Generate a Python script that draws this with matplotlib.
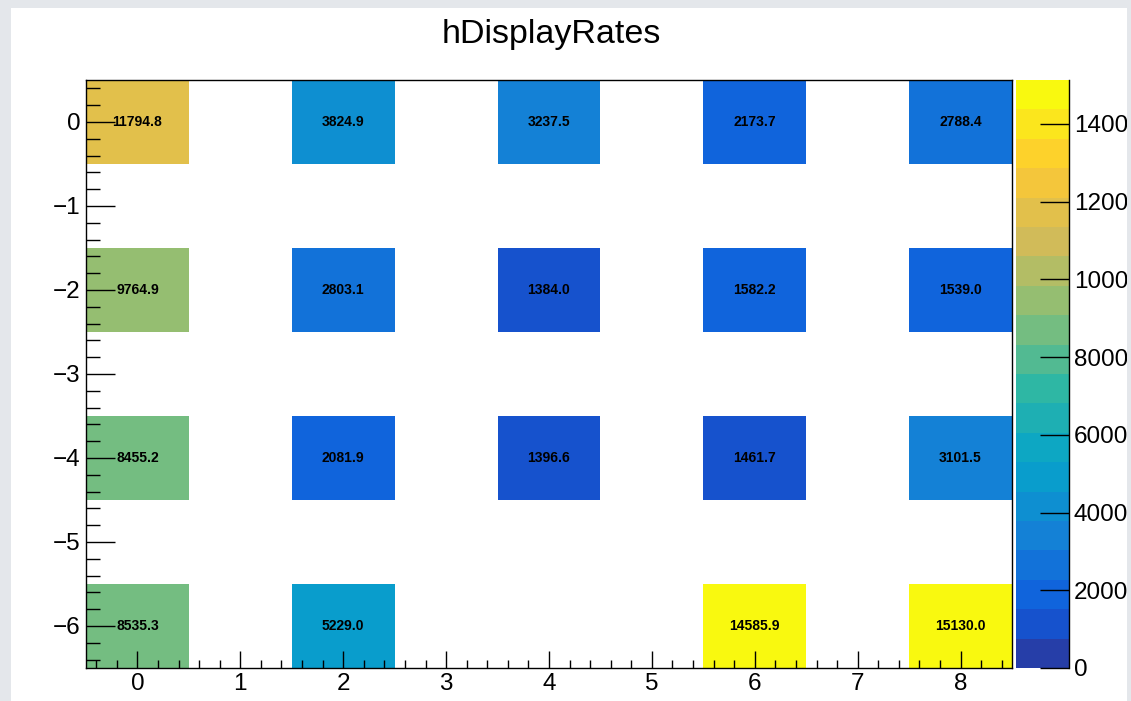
import numpy as np
import matplotlib
matplotlib.use("Agg")
import matplotlib.pyplot as plt
from matplotlib.colors import ListedColormap, BoundaryNorm
from matplotlib.patches import Rectangle
from matplotlib.ticker import MultipleLocator

plt.rcParams['font.family'] = ['Liberation Sans', 'DejaVu Sans']

# Histogram content: filled bin centres and the rate in each bin
title = "hDisplayRates"
x_filled = [0, 2, 4, 6, 8]
y_filled = [0, -2, -4, -6]
rates_row_0 = [11794.8, 3824.9, 3237.5, 2173.7, 2788.4]
rates_row_m2 = [9764.9, 2803.1, 1384.0, 1582.2, 1539.0]
rates_row_m4 = [8455.2, 2081.9, 1396.6, 1461.7, 3101.5]
rates_row_m6 = [8535.3, 5229.0, None, 14585.9, 15130.0]
rows = [rates_row_0, rates_row_m2, rates_row_m4, rates_row_m6]
palette_ticks = [0, 2000, 4000, 6000, 8000, 10000, 12000, 14000]

# Binning: unit-width bins centred on integers
x_lo, x_hi = -0.5, 8.5
y_lo, y_hi = -6.5, 0.5
x_edges = np.arange(x_lo, x_hi + 0.5, 1.0)
y_edges = np.arange(y_lo, y_hi + 0.5, 1.0)
nx, ny = len(x_edges) - 1, len(y_edges) - 1

grid = np.full((ny, nx), np.nan)
for yv, row in zip(y_filled, rows):
    for xv, val in zip(x_filled, row):
        if val is not None:
            grid[int(round(yv - y_lo - 0.5)), int(round(xv - x_lo - 0.5))] = val

# Bird palette with 20 contour levels from 0 to the maximum
stops = [0.0000, 0.1250, 0.2500, 0.3750, 0.5000, 0.6250, 0.7500, 0.8750, 1.0000]
red = [0.2082, 0.0592, 0.0780, 0.0232, 0.1802, 0.5301, 0.8186, 0.9956, 0.9764]
green = [0.1664, 0.3599, 0.5041, 0.6419, 0.7178, 0.7492, 0.7328, 0.7862, 0.9832]
blue = [0.5293, 0.8684, 0.8385, 0.7914, 0.6425, 0.4662, 0.3499, 0.1968, 0.0539]
n_grad = 255
palette = []
for g in range(1, len(stops)):
    nseg = int(np.floor(n_grad * stops[g]) - np.floor(n_grad * stops[g - 1]))
    for c in range(nseg):
        f = c / nseg
        palette.append((red[g - 1] + f * (red[g] - red[g - 1]),
                        green[g - 1] + f * (green[g] - green[g - 1]),
                        blue[g - 1] + f * (blue[g] - blue[g - 1])))
n_levels = 20
band_colors = [palette[min(int((i + 0.99) * len(palette) / n_levels), len(palette) - 1)]
               for i in range(n_levels)]
z_max = np.nanmax(grid)
levels = np.linspace(0, z_max, n_levels + 1)
cmap = ListedColormap(band_colors)
cmap.set_over(band_colors[-1])
cmap.set_bad((1, 1, 1, 0))
norm = BoundaryNorm(levels, n_levels)

W, H = 1131, 701
fig = plt.figure(figsize=(W / 100, H / 100), dpi=100, facecolor='white')

ax = fig.add_axes([86 / W, 1 - 668 / H, (1012 - 86) / W, (668 - 80) / H])
mesh = ax.pcolormesh(x_edges, y_edges, np.ma.masked_invalid(grid),
                     cmap=cmap, norm=norm, zorder=1)
ax.set_xlim(x_lo, x_hi)
ax.set_ylim(y_lo, y_hi)

for j in range(ny):
    for i in range(nx):
        v = grid[j, i]
        if not np.isnan(v):
            ax.text((x_edges[i] + x_edges[i + 1]) / 2, (y_edges[j] + y_edges[j + 1]) / 2,
                    f"{v:.1f}", ha='center', va='center', fontsize=10,
                    fontweight='bold', color='black', zorder=3)

label_size = 17.5
ax.xaxis.set_major_locator(MultipleLocator(1))
ax.xaxis.set_minor_locator(MultipleLocator(0.2))
ax.yaxis.set_major_locator(MultipleLocator(1))
ax.yaxis.set_minor_locator(MultipleLocator(0.2))
ax.tick_params(axis='x', which='major', direction='in', length=12.2, width=1.0,
               labelsize=label_size, pad=3.5, top=False)
ax.tick_params(axis='x', which='minor', direction='in', length=5.8, width=1.0, top=False)
ax.tick_params(axis='y', which='major', direction='in', length=20.9, width=1.0,
               labelsize=label_size, pad=4, right=False)
ax.tick_params(axis='y', which='minor', direction='in', length=10, width=1.0, right=False)
for s in ax.spines.values():
    s.set_linewidth(1.0)
    s.set_zorder(4)

# Colour scale
cax = fig.add_axes([1016 / W, 1 - 668 / H, (1069 - 1016) / W, (668 - 80) / H])
cbar = fig.colorbar(mesh, cax=cax, ticks=palette_ticks)
cbar.outline.set_visible(False)
cax.spines['right'].set_visible(True)
cax.spines['right'].set_linewidth(1.0)
cbar.set_ticklabels([f"{t:d}" for t in palette_ticks])
cax.tick_params(axis='y', which='major', direction='in', length=20.9, width=1.0,
                labelsize=label_size, pad=3.5, right=True, left=False)
cax.minorticks_off()

fig.text(551.5 / W, 1 - 43 / H, title, ha='center', va='baseline', fontsize=24.5)

# Window frame around the canvas
frame = '#e4e7eb'
for (x0, y0, w, h) in [(0, 0, 11, H), (1127, 0, W - 1127, H), (0, 0, W, 8)]:
    fig.patches.append(Rectangle((x0 / W, 1 - (y0 + h) / H), w / W, h / H,
                                 transform=fig.transFigure, facecolor=frame,
                                 edgecolor='none', zorder=100))

fig.savefig("out.png", dpi=100, facecolor=fig.get_facecolor())
